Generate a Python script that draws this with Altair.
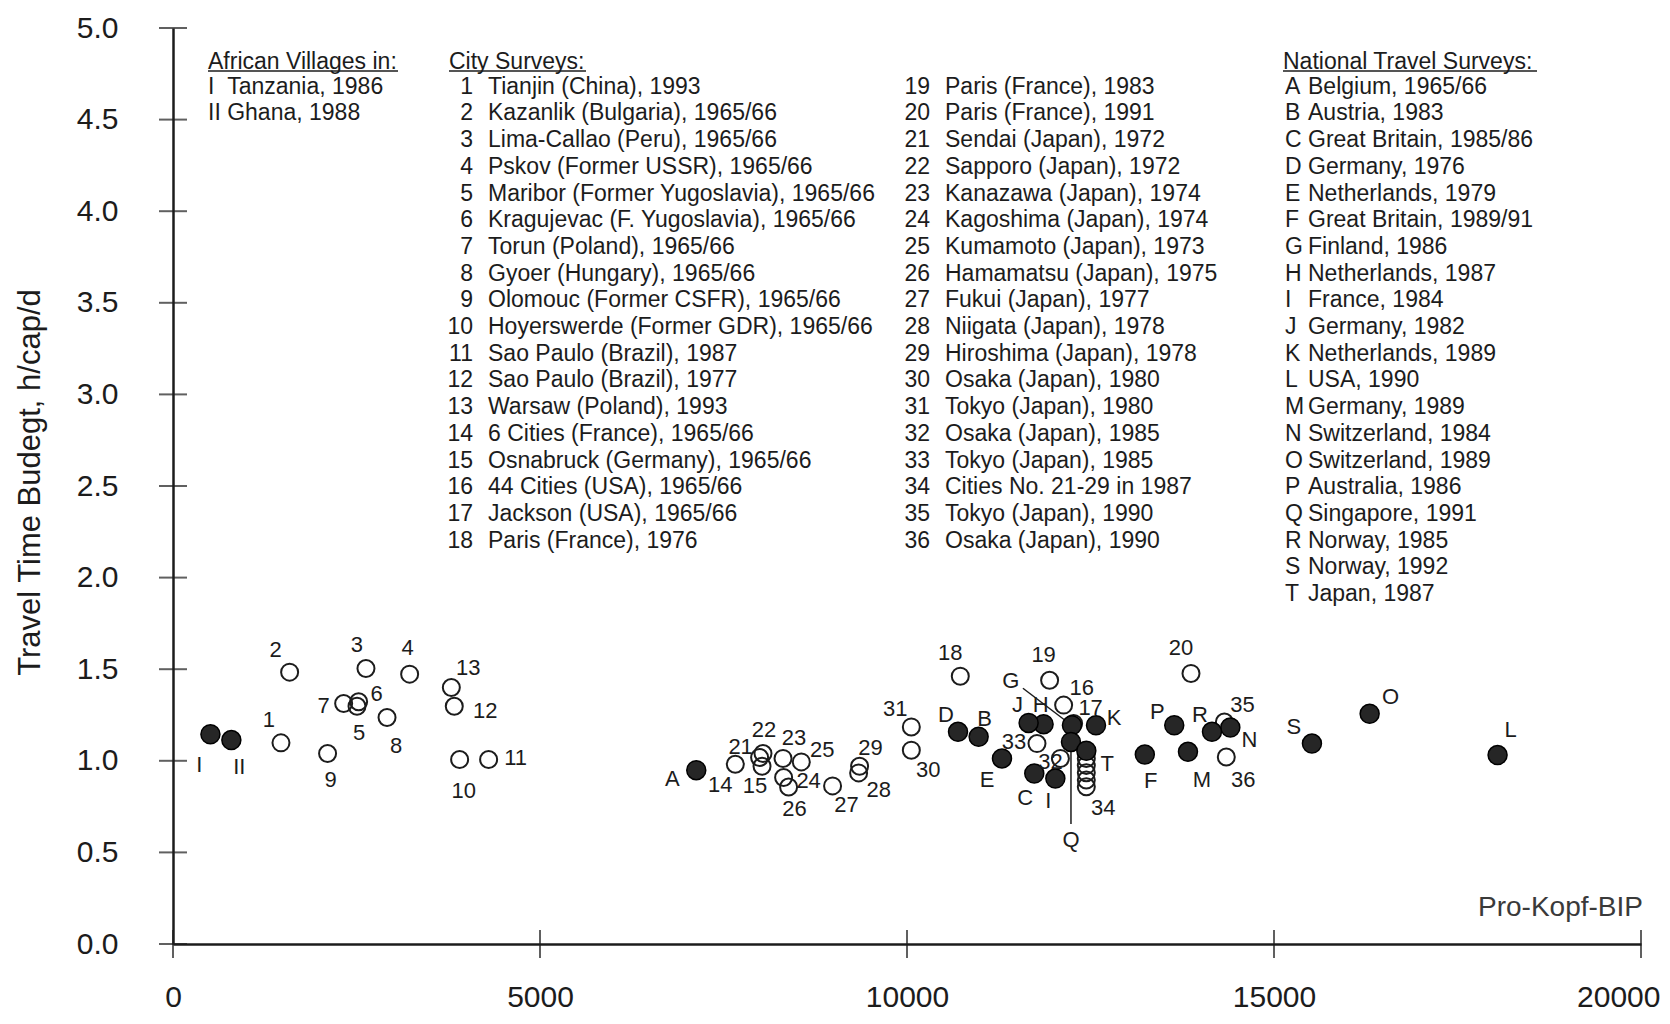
import altair as alt
import pandas as pd

# ---------------- layout ----------------
W, H = 1468, 916
X_MAX, Y_MAX = 20000, 5.0
PX_X = W / X_MAX
PX_Y = H / Y_MAX
FONT = "Liberation Sans"
INK = "#1c1c1c"
NBSP = "\u00a0"


def px_to_x(px):
    return px / PX_X


def px_to_y(py):
    return Y_MAX - py / PX_Y


# ---------------- axis ticks ----------------
x_tick_values = [0, 5000, 10000, 15000, 20000]
y_tick_values = [0.0, 0.5, 1.0, 1.5, 2.0, 2.5, 3.0, 3.5, 4.0, 4.5, 5.0]

# ---------------- data ----------------
village_labels = ["I", "II"]
village_x = [510, 795]
village_y = [1.145, 1.113]

city_labels = [str(i) for i in range(1, 37)]
city_x = [1471, 1589, 2629, 3224, 2507, 2529, 2325, 2916, 2106, 3905,
          4300, 3832, 3792, 7661, 8025, 12134, 12270, 10726, 11943, 13869,
          7992, 8038, 8311, 8319, 8560, 8387, 8986, 9341, 9354, 10059,
          10059, 12090, 11771, 12443, 14324, 14350]
city_y = [1.098, 1.484, 1.504, 1.473, 1.298, 1.322, 1.313, 1.236, 1.040, 1.007,
          1.007, 1.298, 1.400, 0.981, 0.970, 1.304, 1.204, 1.462, 1.440, 1.477,
          1.018, 1.040, 1.013, 0.909, 0.994, 0.857, 0.863, 0.934, 0.970, 1.058,
          1.185, 1.013, 1.094, 0.858, 1.212, 1.021]
# further cities of survey 34 (Cities No. 21-29 in 1987)
city34_extra_x = [12443, 12443, 12443, 12443]
city34_extra_y = [1.013, 0.975, 0.935, 0.895]

nat_labels = list("ABCDEFGHIJKLMNOPQRST")
nat_x = [7129, 10976, 11734, 10695, 11294, 13240, 12247, 11861, 12021, 11657,
         12575, 18046, 13828, 14405, 16303, 13641, 12234, 14155, 15517, 12443]
nat_y = [0.949, 1.131, 0.931, 1.158, 1.013, 1.034, 1.194, 1.200, 0.903, 1.207,
         1.194, 1.031, 1.049, 1.182, 1.257, 1.194, 1.103, 1.158, 1.094, 1.055]

# label placement relative to the point (pixels)
village_off = [(-11, 31), (8, 27)]
city_off = [(-12, -23), (-14, -22), (-9, -23), (-2, -26), (2, 27), (18, -8),
            (-20, 3), (9, 28), (3, 27), (4, 31), (27, -2), (31, 5), (17, -20),
            (-15, 21), (-7, 20), (18, -17), (17, -15), (-10, -23), (-6, -25),
            (-10, -25), (-19, -11), (1, -23), (11, -20), (25, 4), (21, -12),
            (6, 22), (14, 19), (20, 17), (11, -18), (17, 20), (-16, -18),
            (-10, 4), (-23, -2), (17, 21), (18, -17), (17, 23)]
nat_off = [(-24, 9), (6, -18), (-9, 25), (-12, -17), (-15, 22), (6, 26),
           (-61, -44), (-3, -19), (-7, 22), (-11, -18), (18, -7), (13, -25),
           (14, 28), (19, 13), (21, -17), (-17, -13), (0, 98), (-12, -17),
           (-18, -17), (21, 13)]
# leader lines (G, Q): start / end offsets from the point in pixels
leader_labels = ["G", "Q"]
leader_off = [((-49, -37), (-3, -2)), ((0, 0), (0, 82))]

# ---------------- legend texts ----------------
african_header = "African Villages in:"
african_items = ["I" + NBSP + NBSP + "Tanzania, 1986", "II" + NBSP + "Ghana, 1988"]
city_header = "City Surveys:"
city_names = [
    "Tianjin (China), 1993", "Kazanlik (Bulgaria), 1965/66",
    "Lima-Callao (Peru), 1965/66", "Pskov (Former USSR), 1965/66",
    "Maribor (Former Yugoslavia), 1965/66", "Kragujevac (F. Yugoslavia), 1965/66",
    "Torun (Poland), 1965/66", "Gyoer (Hungary), 1965/66",
    "Olomouc (Former CSFR), 1965/66", "Hoyerswerde (Former GDR), 1965/66",
    "Sao Paulo (Brazil), 1987", "Sao Paulo (Brazil), 1977",
    "Warsaw (Poland), 1993", "6 Cities (France), 1965/66",
    "Osnabruck (Germany), 1965/66", "44 Cities (USA), 1965/66",
    "Jackson (USA), 1965/66", "Paris (France), 1976",
    "Paris (France), 1983", "Paris (France), 1991",
    "Sendai (Japan), 1972", "Sapporo (Japan), 1972",
    "Kanazawa (Japan), 1974", "Kagoshima (Japan), 1974",
    "Kumamoto (Japan), 1973", "Hamamatsu (Japan), 1975",
    "Fukui (Japan), 1977", "Niigata (Japan), 1978",
    "Hiroshima (Japan), 1978", "Osaka (Japan), 1980",
    "Tokyo (Japan), 1980", "Osaka (Japan), 1985",
    "Tokyo (Japan), 1985", "Cities No. 21-29 in 1987",
    "Tokyo (Japan), 1990", "Osaka (Japan), 1990",
]
national_header = "National Travel Surveys:"
national_names = [
    "Belgium, 1965/66", "Austria, 1983", "Great Britain, 1985/86",
    "Germany, 1976", "Netherlands, 1979", "Great Britain, 1989/91",
    "Finland, 1986", "Netherlands, 1987", "France, 1984", "Germany, 1982",
    "Netherlands, 1989", "USA, 1990", "Germany, 1989", "Switzerland, 1984",
    "Switzerland, 1989", "Australia, 1986", "Singapore, 1991",
    "Norway, 1985", "Norway, 1992", "Japan, 1987",
]
x_axis_note = "Pro-Kopf-BIP"
y_title = "Travel Time Budegt, h/cap/d"

# legend layout (pixels from the plot's left / top edge)
ROW0, ROW_STEP = 58.7, 26.7
HEADER_ROW = 33.7
UNDERLINE_ROW = 43.0
AFR_LEFT = 35
CITY_HEAD_LEFT, CITY_NUM_RIGHT, CITY_NAME_LEFT = 276, 300, 315
CITY2_NUM_RIGHT, CITY2_NAME_LEFT = 757, 772
NAT_HEAD_LEFT, NAT_LET_LEFT, NAT_NAME_LEFT = 1110, 1112, 1135
UNDERLINE_W = {"afr": 190, "city": 137, "nat": 254}
LEG_FS = 23


def row_y(i):
    return px_to_y(ROW0 + i * ROW_STEP)


# ---------------- build tables ----------------
open_df = pd.DataFrame({
    "x": city_x + city34_extra_x,
    "y": city_y + city34_extra_y,
})
filled_df = pd.DataFrame({
    "x": village_x + nat_x,
    "y": village_y + nat_y,
})

lab_rows = []
for labs, xs_, ys_, offs in [(village_labels, village_x, village_y, village_off),
                             (city_labels, city_x, city_y, city_off),
                             (nat_labels, nat_x, nat_y, nat_off)]:
    for lab, x, y, (dx, dy) in zip(labs, xs_, ys_, offs):
        lab_rows.append({"t": lab, "x": x + dx / PX_X, "y": y - dy / PX_Y})
labels_df = pd.DataFrame(lab_rows)

lead_rows = []
for lab, (s, e) in zip(leader_labels, leader_off):
    i = nat_labels.index(lab)
    x, y = nat_x[i], nat_y[i]
    lead_rows.append({"x": x + s[0] / PX_X, "y": y - s[1] / PX_Y,
                      "x2": x + e[0] / PX_X, "y2": y - e[1] / PX_Y})
lead_df = pd.DataFrame(lead_rows)

yt_df = pd.DataFrame({"y": y_tick_values, "x": [0] * len(y_tick_values)})
xt_df = pd.DataFrame({"x": x_tick_values, "y": [0] * len(x_tick_values)})

left_rows, right_rows = [], []
left_rows.append({"t": african_header, "x": px_to_x(AFR_LEFT), "y": px_to_y(HEADER_ROW)})
for i, s in enumerate(african_items):
    left_rows.append({"t": s, "x": px_to_x(AFR_LEFT), "y": row_y(i)})
left_rows.append({"t": city_header, "x": px_to_x(CITY_HEAD_LEFT), "y": px_to_y(HEADER_ROW)})
left_rows.append({"t": national_header, "x": px_to_x(NAT_HEAD_LEFT), "y": px_to_y(HEADER_ROW)})
for i, s in enumerate(city_names):
    col = i // 18
    r = i % 18
    left_rows.append({"t": s, "x": px_to_x(CITY_NAME_LEFT if col == 0 else CITY2_NAME_LEFT),
                      "y": row_y(r)})
    right_rows.append({"t": str(i + 1), "x": px_to_x(CITY_NUM_RIGHT if col == 0 else CITY2_NUM_RIGHT),
                       "y": row_y(r)})
for i, (l, s) in enumerate(zip(nat_labels, national_names)):
    left_rows.append({"t": l, "x": px_to_x(NAT_LET_LEFT), "y": row_y(i)})
    left_rows.append({"t": s, "x": px_to_x(NAT_NAME_LEFT), "y": row_y(i)})
left_df = pd.DataFrame(left_rows)
right_df = pd.DataFrame(right_rows)

ul_df = pd.DataFrame({
    "x": [px_to_x(AFR_LEFT), px_to_x(CITY_HEAD_LEFT), px_to_x(NAT_HEAD_LEFT)],
    "x2": [px_to_x(AFR_LEFT + UNDERLINE_W["afr"]),
           px_to_x(CITY_HEAD_LEFT + UNDERLINE_W["city"]),
           px_to_x(NAT_HEAD_LEFT + UNDERLINE_W["nat"])],
    "y": [px_to_y(UNDERLINE_ROW)] * 3,
})
note_df = pd.DataFrame({"t": [x_axis_note], "x": [X_MAX], "y": [px_to_y(880)]})

# ---------------- scales / axes ----------------
xs = alt.Scale(domain=[0, X_MAX], nice=False, zero=False)
ys = alt.Scale(domain=[0, Y_MAX], nice=False, zero=False)

x_axis = alt.Axis(
    values=x_tick_values, format="d", ticks=False, tickSize=0, grid=False,
    domainColor=INK, domainWidth=2.5, labelFont=FONT, labelFontSize=30,
    labelColor=INK, labelPadding=38, labelOverlap=False, title=None,
    labelAlign={"condition": {"test": "datum.value == 20000", "value": "right"}, "value": "center"},
    labelOffset={"condition": {"test": "datum.value == 20000", "value": 19}, "value": 0},
)
y_axis = alt.Axis(
    values=y_tick_values, format=".1f", ticks=False, tickSize=0, grid=False,
    domainColor=INK, domainWidth=2.5, labelFont=FONT, labelFontSize=30,
    labelColor=INK, labelPadding=55, labelOverlap=False,
    title=y_title, titleFont=FONT, titleFontSize=31, titleFontWeight="normal",
    titleColor=INK, titleAngle=270, titleX=-143, titleY=454,
    titleAlign="center", titleBaseline="middle",
)


def X(field="x"):
    return alt.X(f"{field}:Q", scale=xs, axis=x_axis, title=None)


def Y(field="y"):
    return alt.Y(f"{field}:Q", scale=ys, axis=y_axis, title=y_title)


open_pts = alt.Chart(open_df).mark_point(
    shape="circle", filled=False, size=289, strokeWidth=2, color=INK, opacity=1
).encode(x=X(), y=Y())

filled_pts = alt.Chart(filled_df).mark_point(
    shape="circle", filled=True, size=361, fill="#262626", stroke="#000000",
    strokeWidth=1.5, opacity=1
).encode(x=X(), y=Y())

y_ticks = alt.Chart(yt_df).mark_tick(orient="horizontal", size=28, thickness=2, color=INK).encode(
    x=X(), y=Y())
x_ticks = alt.Chart(xt_df).mark_tick(orient="vertical", size=28, thickness=2, color=INK).encode(
    x=X(), y=Y())

leaders = alt.Chart(lead_df).mark_rule(color=INK, strokeWidth=1.5).encode(
    x=X(), y=Y(), x2="x2:Q", y2="y2:Q")

pt_labels = alt.Chart(labels_df).mark_text(
    font=FONT, fontSize=22, color=INK, align="center", baseline="middle"
).encode(x=X(), y=Y(), text="t:N")

legend_left = alt.Chart(left_df).mark_text(
    font=FONT, fontSize=LEG_FS, color=INK, align="left", baseline="middle"
).encode(x=X(), y=Y(), text="t:N")
legend_right = alt.Chart(right_df).mark_text(
    font=FONT, fontSize=LEG_FS, color=INK, align="right", baseline="middle"
).encode(x=X(), y=Y(), text="t:N")

underlines = alt.Chart(ul_df).mark_rule(color=INK, strokeWidth=1.5).encode(
    x=X(), x2="x2:Q", y=Y())

note = alt.Chart(note_df).mark_text(
    font=FONT, fontSize=28, color="#3a3a3a", align="right", baseline="middle", dx=2
).encode(x=X(), y=Y(), text="t:N")

chart = alt.layer(
    open_pts, y_ticks, x_ticks, leaders, filled_pts, pt_labels,
    legend_left, legend_right, underlines, note
).properties(
    width=W, height=H,
    autosize=alt.AutoSizeParams(type="none"),
    padding={"left": 165, "top": 20, "right": 21, "bottom": 72},
    background="white",
).configure_view(stroke=None)

chart.save("out.html", embed_options={"renderer": "svg", "actions": False})
